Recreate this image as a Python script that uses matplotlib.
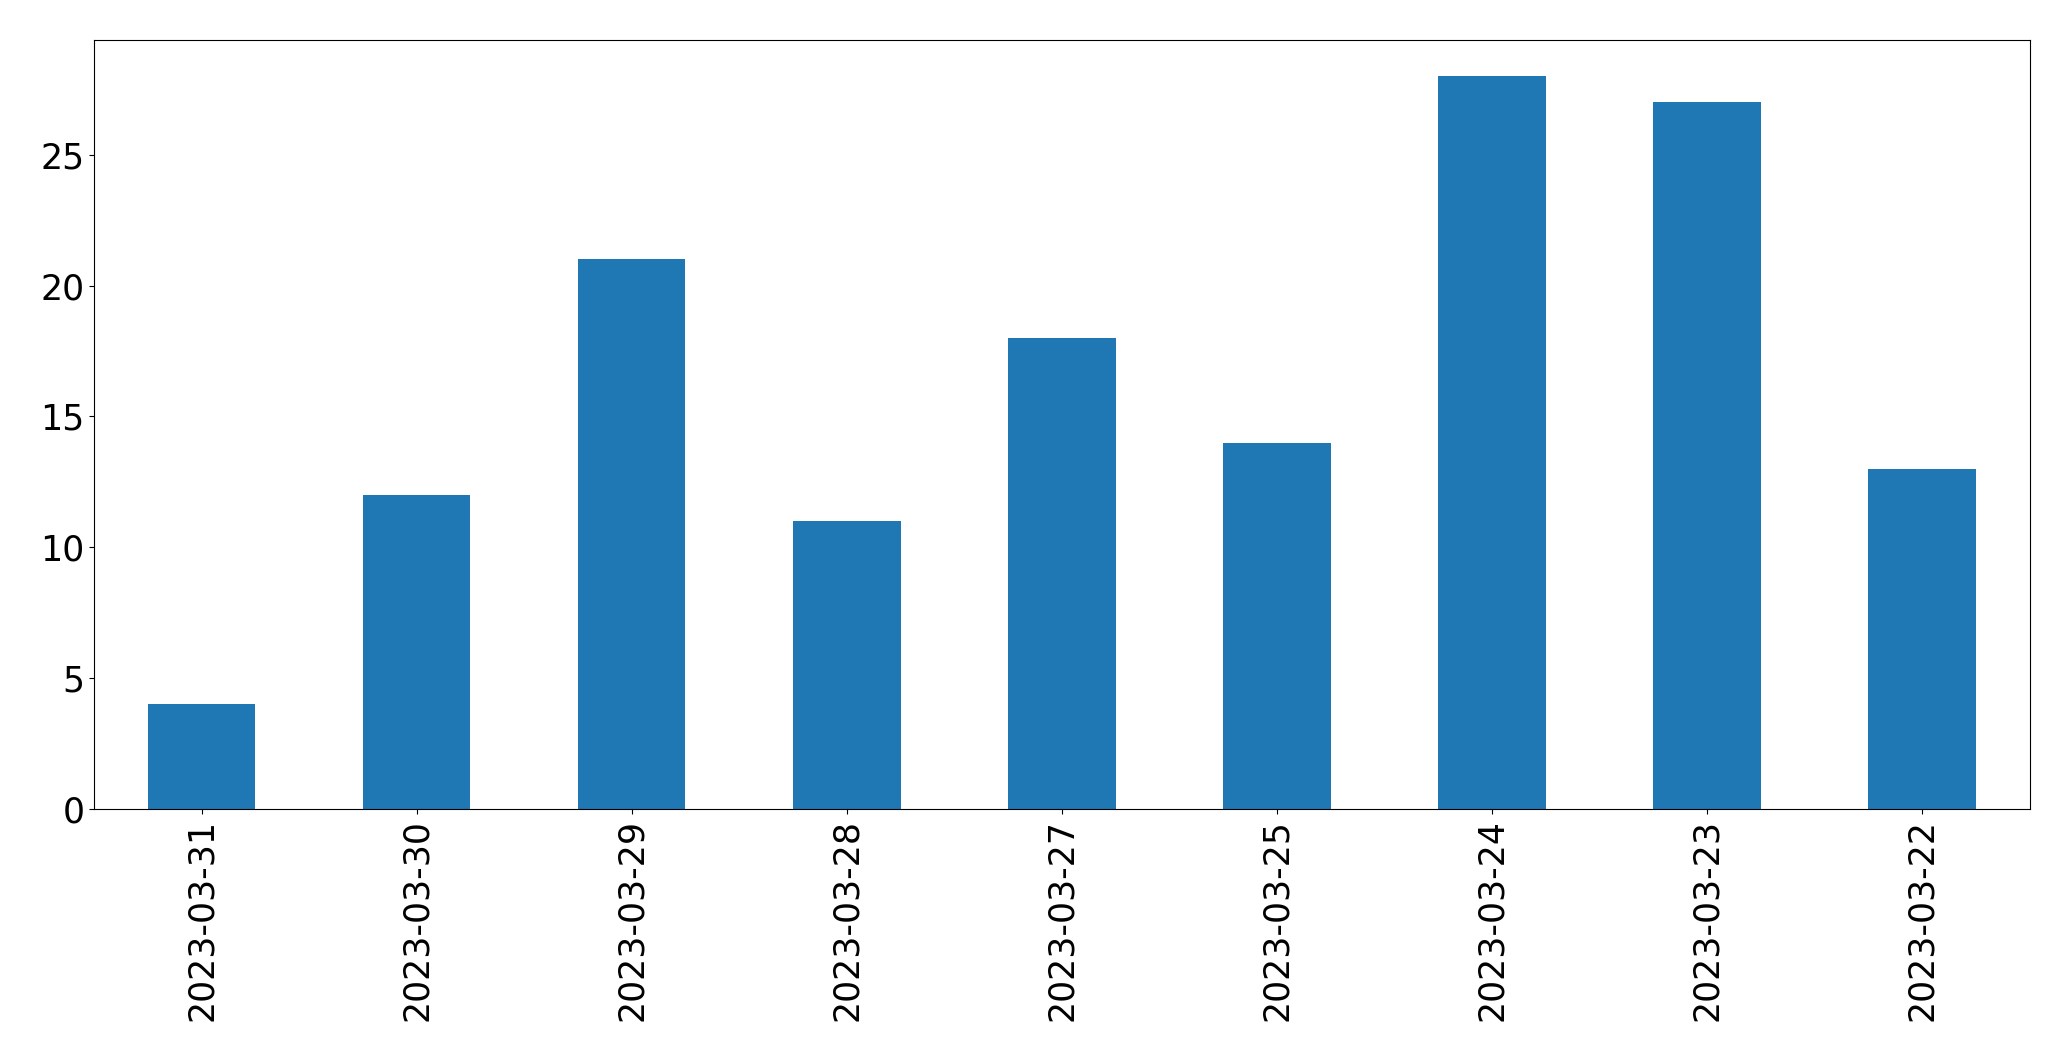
import matplotlib
matplotlib.use("Agg")
import matplotlib.pyplot as plt
import numpy as np

# data
dates = ["2023-03-31", "2023-03-30", "2023-03-29", "2023-03-28", "2023-03-27",
         "2023-03-25", "2023-03-24", "2023-03-23", "2023-03-22"]
counts = [4, 12, 21, 11, 18, 14, 28, 27, 13]

fig = plt.figure(figsize=(20.71, 10.61), dpi=100)
ax = fig.add_axes([0.0454, 0.2375, 0.9346, 0.7252])

x = np.arange(len(dates))
ax.bar(x, counts, width=0.5, color="#1f77b4")
ax.set_xlim(-0.5, len(dates) - 0.5)
ax.set_ylim(0, max(counts) * 1.05)
ax.set_xticks(x)
ax.set_xticklabels(dates, rotation=90)
ax.tick_params(labelsize=25)

fig.savefig("out.png", dpi=100)
